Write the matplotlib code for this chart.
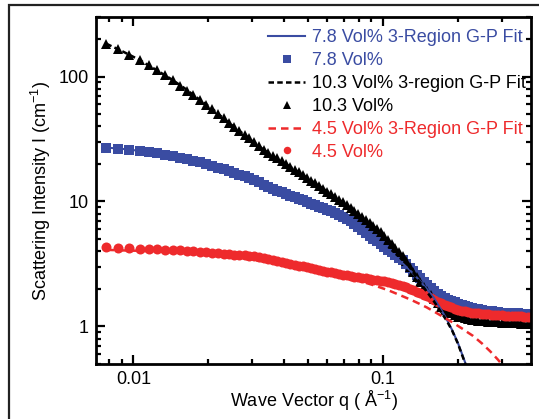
import matplotlib
matplotlib.use('Agg')
import matplotlib.pyplot as plt
from matplotlib.patches import Rectangle
from matplotlib.ticker import LogLocator, FuncFormatter, NullFormatter

plt.rcParams['font.family'] = ['Liberation Sans', 'DejaVu Sans']
plt.rcParams['mathtext.fontset'] = 'custom'
plt.rcParams['mathtext.rm'] = 'Liberation Sans'

# q values of the measured points (1/A)
q_data = [0.0078, 0.0087, 0.0096, 0.0106, 0.0115, 0.0124, 0.0134, 0.0144, 0.0154, 0.0164,
          0.0174, 0.0185, 0.0196, 0.0207, 0.0218, 0.023, 0.0242, 0.0254, 0.0266, 0.0279,
          0.0292, 0.0305, 0.0319, 0.0333, 0.0347, 0.0362, 0.0377, 0.0393, 0.0409, 0.0426,
          0.0443, 0.046, 0.0478, 0.0497, 0.0516, 0.0536, 0.0556, 0.0577, 0.0599, 0.0621,
          0.0644, 0.0668, 0.0692, 0.0717, 0.0743, 0.077, 0.0797, 0.0826, 0.0855, 0.0885,
          0.0916, 0.0948, 0.0981, 0.1015, 0.105, 0.1086, 0.1123, 0.1161, 0.12, 0.124,
          0.1282, 0.1325, 0.1369, 0.1414, 0.1461, 0.1509, 0.1558, 0.1609, 0.1661, 0.1715,
          0.177, 0.1827, 0.1886, 0.1946, 0.2008, 0.2072, 0.2138, 0.2205, 0.2275, 0.2346,
          0.242, 0.2496, 0.2574, 0.2654, 0.2736, 0.2821, 0.2908, 0.2998, 0.309, 0.3185,
          0.3283, 0.3383, 0.3486, 0.3592, 0.37, 0.3812, 0.3927]

# 7.8 Vol%
I_78 = [26.9, 26.4, 25.9, 25.4, 24.9, 24.3, 23.7, 23.0, 22.4, 21.8,
        21.2, 20.6, 20.0, 19.4, 18.7, 18.1, 17.5, 16.9, 16.4, 15.9,
        15.5, 14.8, 14.2, 13.6, 13.0, 12.6, 12.2, 11.9, 11.5, 11.1,
        10.8, 10.5, 10.2, 9.9, 9.6, 9.33, 9.08, 8.82, 8.57, 8.32,
        8.02, 7.74, 7.47, 7.21, 6.94, 6.57, 6.24, 5.91, 5.61, 5.32,
        5.05, 4.80, 4.55, 4.33, 4.12, 3.92, 3.74, 3.56, 3.40, 3.17,
        2.96, 2.77, 2.59, 2.43, 2.27, 2.15, 2.04, 1.93, 1.83, 1.76,
        1.69, 1.64, 1.60, 1.56, 1.52, 1.49, 1.46, 1.43, 1.41, 1.39,
        1.37, 1.35, 1.34, 1.33, 1.32, 1.31, 1.30, 1.29, 1.29, 1.28,
        1.28, 1.27, 1.27, 1.26, 1.26, 1.25, 1.25]

# 10.3 Vol%
I_103 = [183, 165, 150, 135, 123, 113, 103, 93.7, 84.6, 77.1,
         71, 65, 59.7, 55, 50.6, 46.2, 42.5, 39.3, 36.7, 34.2,
         32.0, 29.8, 27.7, 25.8, 24.5, 23.2, 22.1, 21.0, 19.9, 19.0,
         18.0, 17.2, 16.3, 15.5, 14.7, 14.0, 13.3, 12.6, 12.0, 11.4,
         10.8, 10.3, 9.82, 9.35, 8.89, 8.40, 7.96, 7.52, 7.13, 6.75,
         6.39, 6.05, 5.73, 5.33, 4.94, 4.58, 4.25, 3.94, 3.66, 3.32,
         3.01, 2.73, 2.48, 2.26, 2.06, 1.91, 1.78, 1.65, 1.53, 1.43,
         1.36, 1.31, 1.27, 1.23, 1.20, 1.18, 1.16, 1.14, 1.13, 1.12,
         1.11, 1.10, 1.10, 1.09, 1.09, 1.08, 1.08, 1.07, 1.07, 1.07,
         1.06, 1.06, 1.06, 1.05, 1.05, 1.05, 1.05]

# 4.5 Vol%
I_45 = [4.29, 4.24, 4.21, 4.20, 4.18, 4.15, 4.12, 4.10, 4.07, 4.04,
        4.01, 3.97, 3.94, 3.90, 3.87, 3.83, 3.79, 3.76, 3.73, 3.70,
        3.66, 3.63, 3.60, 3.56, 3.49, 3.42, 3.36, 3.29, 3.23, 3.17,
        3.11, 3.06, 3.02, 2.97, 2.93, 2.88, 2.84, 2.79, 2.75, 2.71,
        2.67, 2.63, 2.60, 2.56, 2.53, 2.50, 2.48, 2.45, 2.42, 2.40,
        2.37, 2.34, 2.32, 2.29, 2.25, 2.21, 2.18, 2.14, 2.11, 2.06,
        2.00, 1.95, 1.90, 1.85, 1.80, 1.75, 1.69, 1.64, 1.58, 1.53,
        1.49, 1.46, 1.42, 1.39, 1.36, 1.34, 1.32, 1.30, 1.29, 1.28,
        1.27, 1.26, 1.25, 1.25, 1.24, 1.24, 1.23, 1.23, 1.22, 1.22,
        1.22, 1.21, 1.21, 1.21, 1.20, 1.20, 1.20]

# 3-region Guinier-Porod fits
q_fit = [0.0078, 0.009, 0.0105, 0.012, 0.014, 0.016, 0.0185, 0.021, 0.024, 0.028,
         0.032, 0.037, 0.042, 0.048, 0.055, 0.063, 0.072, 0.082, 0.093, 0.105,
         0.118, 0.13, 0.14, 0.15, 0.16, 0.17, 0.18, 0.19, 0.2, 0.21,
         0.22, 0.23, 0.25, 0.27, 0.29, 0.31]
fit_78 = [27, 26.4, 25.5, 24.5, 23.3, 22.1, 20.7, 19.3, 17.7, 16.0,
          14.5, 12.9, 11.7, 10.4, 9.3, 8.2, 7.2, 6.1, 5.0, 4.1,
          3.3, 2.75, 2.35, 2.0, 1.7, 1.4, 1.15, 0.93, 0.74, 0.57,
          0.44, 0.34, 0.2, 0.1, 0.05, 0.02]
fit_103 = [183, 160, 137, 117, 97, 81, 65, 54, 43, 34,
           27.5, 22.4, 19.3, 16.2, 13.5, 11.2, 9.3, 7.5, 6.2, 4.95,
           3.8, 2.85, 2.3, 1.9, 1.6, 1.33, 1.12, 0.92, 0.73, 0.56,
           0.43, 0.33, 0.19, 0.1, 0.05, 0.02]
fit_45 = [4.1, 4.06, 4.03, 3.99, 3.93, 3.87, 3.79, 3.71, 3.61, 3.48,
          3.35, 3.2, 3.06, 2.92, 2.77, 2.62, 2.45, 2.29, 2.12, 1.95,
          1.77, 1.63, 1.52, 1.42, 1.32, 1.23, 1.15, 1.08, 1.01, 0.95,
          0.89, 0.84, 0.73, 0.63, 0.54, 0.46]

blue = '#3a4ca2'
red = '#ee2a2c'

fig = plt.figure(figsize=(5.39, 4.19), dpi=100)
ax = fig.add_axes([96/539, 55/419, 435/539, 347/419])

ax.plot(q_data, I_78, 's', color=blue, ms=6.8, mew=0, label='7.8 Vol%')
ax.plot(q_data, I_103, '^', color='k', ms=7.5, mew=0, label='10.3 Vol%')
ax.plot(q_data, I_45, 'o', color=red, ms=7.2, mew=0, label='4.5 Vol%')
ax.plot(q_fit, fit_78, '-', color=blue, lw=1.5, label='7.8 Vol% 3-Region G-P Fit')
ax.plot(q_fit, fit_103, color='k', lw=1.8, ls=(0, (2.2, 1.3)), label='10.3 Vol% 3-region G-P Fit')
ax.plot(q_fit, fit_45, color=red, lw=1.8, ls=(0, (3, 2)), label='4.5 Vol% 3-Region G-P Fit')

ax.set_xscale('log')
ax.set_yscale('log')
ax.set_xlim(0.00708, 0.393)
ax.set_ylim(0.5, 300)

fmt = FuncFormatter(lambda v, p: '%g' % v)
ax.xaxis.set_major_formatter(fmt)
ax.yaxis.set_major_formatter(fmt)
ax.xaxis.set_minor_formatter(NullFormatter())
ax.yaxis.set_minor_formatter(NullFormatter())
ax.xaxis.set_minor_locator(LogLocator(base=10, subs=range(2, 10)))
ax.yaxis.set_minor_locator(LogLocator(base=10, subs=range(2, 10)))

ax.tick_params(which='both', direction='in', top=True, right=True, width=1.6, labelsize=13)
ax.tick_params(which='major', length=6.5, pad=5)
ax.tick_params(which='minor', length=3.6)
for s in ax.spines.values():
    s.set_linewidth(2)

ax.set_xlabel('Wave Vector q ( Å$^{-1}$)', fontsize=13, labelpad=1)
ax.set_ylabel('Scattering Intensity I (cm$^{-1}$)', fontsize=13, labelpad=4)

h, l = ax.get_legend_handles_labels()
order = [3, 0, 4, 1, 5, 2]
leg = ax.legend([h[i] for i in order], [l[i] for i in order], frameon=False,
                loc='upper left', bbox_to_anchor=(268/539, 390/419), bbox_transform=fig.transFigure,
                fontsize=13, handlelength=2.05, handletextpad=0.4, labelspacing=0.33,
                borderpad=0, borderaxespad=0, markerscale=0.75)
for t, c in zip(leg.get_texts(), [blue, blue, 'k', 'k', red, red]):
    t.set_color(c)

# outer frame around the figure
fig.patches.append(Rectangle((8.5/539, -0.2), 1.2, 1.2 + (419-5.5)/419 - 1.0,
                             transform=fig.transFigure, fill=False, edgecolor='#222222', lw=1.6))

fig.savefig('out.png', dpi=100)
